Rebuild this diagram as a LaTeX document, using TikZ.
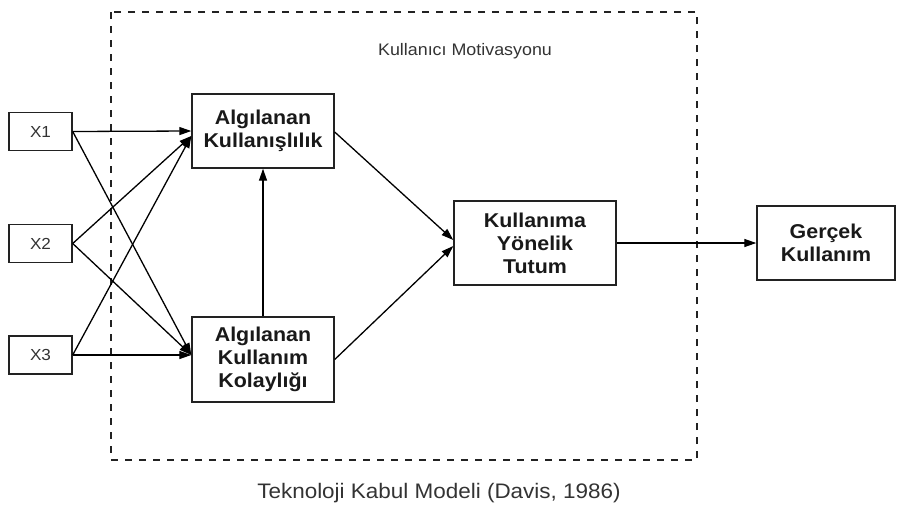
\documentclass[tikz,border=0pt]{standalone}
\usepackage{fontspec}
\setmainfont{Liberation Sans}[FakeStretch=1.07]
\usetikzlibrary{arrows.meta}
\definecolor{txt}{HTML}{333333}
\definecolor{bd}{HTML}{222222}
\tikzset{
  box/.style={draw=bd, line width=1.4pt, fill=white, inner sep=0pt, align=center,
    font=\bfseries\fontsize{20}{23}\selectfont, text=black!90},
  xbox/.style={draw=bd, line width=1.4pt, fill=white, inner sep=0pt,
    minimum width=63pt, minimum height=38pt, font=\fontsize{16}{19}\selectfont, text=txt},
  arr/.style={draw=black, line width=1.3pt, -{Triangle[length=12pt,width=8pt]}},
  region/.style={draw=bd, line width=1.3pt, dash pattern=on 7pt off 7pt}
}
\begin{document}
\begin{tikzpicture}[x=1pt,y=-1pt]
\useasboundingbox (0,0) rectangle (909,509);
\draw[region] (111,12) rectangle (697,460);
\node[font=\fontsize{16.7}{20}\selectfont, text=txt] (title) at (465,51) {Kullanıcı Motivasyonu};
\node[font=\fontsize{21}{25}\selectfont, text=txt] (cap) at (439,493) {Teknoloji Kabul Modeli (Davis, 1986)};

\node[xbox] (X1) at (40.5,131.5) {X1};
\node[xbox] (X2) at (40.5,243.5) {X2};
\node[xbox] (X3) at (40.5,355) {X3};

\node[box, minimum width=142pt, minimum height=74pt] (AK) at (263,131) {Algılanan\\Kullanışlılık};
\node[box, minimum width=142pt, minimum height=85pt] (AKK) at (263,359.5) {Algılanan\\Kullanım\\Kolaylığı};
\node[box, minimum width=162pt, minimum height=84pt] (KYT) at (535,243) {Kullanıma\\Yönelik\\Tutum};
\node[box, minimum width=138pt, minimum height=74pt] (GK) at (826,243) {Gerçek\\Kullanım};

\draw[arr] (X1.east) -- (AK.west);
\draw[arr] (X1.east) -- ([yshift=4.5pt]AKK.west);
\draw[arr] (X2.east) -- ([yshift=-5pt]AK.west);
\draw[arr] (X2.east) -- ([yshift=4.5pt]AKK.west);
\draw[arr] (X3.east) -- ([yshift=-5pt]AK.west);
\draw[arr] (X3.east) -- ([yshift=4.5pt]AKK.west);
\draw[arr] (AKK.north) -- (AK.south);
\draw[arr] ([yshift=-1pt]AK.east) -- ([yshift=3pt]KYT.west);
\draw[arr] (AKK.east) -- ([yshift=-3pt]KYT.west);
\draw[arr] (KYT.east) -- (GK.west);
\end{tikzpicture}
\end{document}
